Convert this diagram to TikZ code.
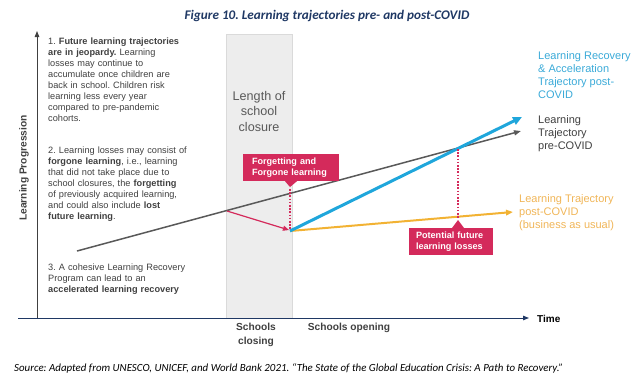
\documentclass[tikz,border=0pt]{standalone}
\usepackage{fontspec}
\setmainfont{Liberation Sans}
\newfontfamily\carlito{Carlito}
\usetikzlibrary{arrows.meta}
\definecolor{navy}{HTML}{1F3864}
\definecolor{dgray}{HTML}{595959}
\definecolor{tgray}{HTML}{404040}
\definecolor{lblue}{HTML}{1FA6DB}
\definecolor{lbluet}{HTML}{3AAAD8}
\definecolor{gold}{HTML}{F2B233}
\definecolor{goldt}{HTML}{F0B557}
\definecolor{crim}{HTML}{D42A5B}
\definecolor{band}{HTML}{EDEDED}
\definecolor{bandb}{HTML}{DADADA}
\frenchspacing
\tikzset{
  itemtxt/.style={anchor=north west, inner sep=0pt, text width=175pt, align=left,
    font=\fontsize{9.2}{11}\selectfont, text=tgray},
  lbl/.style={anchor=west, inner sep=0pt, align=left, font=\fontsize{11}{13}\selectfont},
  callbox/.style={fill=crim, text=white, inner xsep=0pt, inner ysep=0pt, align=left,
    font=\bfseries\fontsize{9.1}{11}\selectfont},
  axislbl/.style={inner sep=0pt, font=\bfseries\fontsize{10.2}{13}\selectfont, text=tgray},
  dotline/.style={crim, line width=1.6pt, dash pattern=on 1.6pt off 1.6pt},
}
\begin{document}
\begin{tikzpicture}[x=1pt,y=-1pt]
\useasboundingbox (0,0) rectangle (644,389);
% title
\node[inner sep=0pt, text=navy, font=\carlito\bfseries\itshape\fontsize{13.2}{15}\selectfont] (title) at (327,16) {Figure 10. Learning trajectories pre- and post-COVID};
% school closure band
\node[fill=band, draw=bandb, line width=0.5pt, minimum width=66pt, minimum height=284pt, inner sep=0pt] (band) at (259,176) {};
\node[inner sep=0pt, align=center, text=dgray, font=\fontsize{12.6}{15.5}\selectfont] (bandtxt) at (259,111) {Length of\\school\\closure};
% axes
\coordinate (yb) at (37,318);
\coordinate (yt) at (37,31);
\coordinate (xl) at (18,318);
\coordinate (xr) at (529,318);
\draw[tgray, line width=1pt, -{Triangle[length=6pt,width=4.5pt]}] (yb) -- (yt);
\draw[navy, line width=1pt, -{Triangle[length=6pt,width=4.5pt]}] (xl) -- (xr);
\node[axislbl, text=black, anchor=west, font=\bfseries\fontsize{10}{12}\selectfont] (time) at (537,319) {Time};
\node[axislbl, rotate=90] (ylab) at (24,168) {Learning Progression};
\node[axislbl, align=center, font=\bfseries\fontsize{10.2}{13.5}\selectfont] (close) at (256,335) {Schools\\closing};
\node[axislbl] (open) at (349,328) {Schools opening};
% left texts
\node[itemtxt] (it1) at (48,37.5) {\hangindent=12.5pt\hangafter=1 1. \textbf{Future learning trajectories}\\\textbf{are in jeopardy.} Learning\\losses may continue to\\accumulate once children are\\back in school. Children risk\\learning less every year\\compared to pre-pandemic\\cohorts.};
\node[itemtxt] (it2) at (48,147) {\hangindent=12.5pt\hangafter=1 2. Learning losses may consist of\\\textbf{forgone learning}, i.e., learning\\that did not take place due to\\school closures, the \textbf{forgetting}\\of previously acquired learning,\\and could also include \textbf{lost}\\\textbf{future learning}.};
\node[itemtxt] (it3) at (48,264) {\hangindent=12.5pt\hangafter=1 3. A cohesive Learning Recovery\\Program can lead to an\\\textbf{accelerated learning recovery}};
% trajectories
\coordinate (pre0) at (77,251);
\coordinate (pre1) at (521,131);
\coordinate (drop) at (290,231);
\coordinate (rec1) at (522,117);
\coordinate (bau1) at (513,212);
\coordinate (fstart) at (227,211);
\coordinate (fend) at (289,230);
\draw[dgray, line width=1.5pt, -{Triangle[length=7pt,width=5pt]}] (pre0) -- (pre1);
\draw[gold, line width=2pt, -{Triangle[length=7pt,width=5.5pt]}] (drop) -- (bau1);
\draw[lblue, line width=3pt, -{Triangle[length=9pt,width=8pt]}] (drop) -- (rec1);
\draw[crim, line width=1.2pt, -{Triangle[length=6pt,width=5pt]}] (fstart) -- (fend);
% callouts
\coordinate (d1a) at (290,189);
\coordinate (d1b) at (290,229);
\coordinate (d2a) at (458,149);
\coordinate (d2b) at (458,219);
\draw[dotline] (d1a) -- (d1b);
\draw[dotline] (d2a) -- (d2b);
\node[callbox, minimum width=96pt, minimum height=27pt, text width=78pt] (c1) at (291,167.5) {Forgetting and\\Forgone learning};
\fill[crim] (c1.south) ++(-6,0) coordinate (t1a) -- ++(12,0) -- (290,187) -- cycle;
\node[callbox, minimum width=84pt, minimum height=27pt, text width=70pt] (c2) at (451,241.5) {Potential future\\learning losses};
\fill[crim] (452,228) -- (464,228) -- (458,220) -- cycle;
% right labels
\node[lbl, text=lbluet] (lrec) at (538,75.5) {Learning Recovery\\\& Acceleration\\Trajectory post-\\COVID};
\node[lbl, text=tgray] (lpre) at (538,134) {Learning\\Trajectory\\pre-COVID};
\node[lbl, text=goldt] (lbau) at (519,212.5) {Learning Trajectory\\post-COVID\\(business as usual)};
% source
\node[anchor=west, inner sep=0pt, font=\carlito\itshape\fontsize{10.9}{13}\selectfont] (src) at (14,368) {Source: Adapted from UNESCO, UNICEF, and World Bank 2021. “The State of the Global Education Crisis: A Path to Recovery.”};
\end{tikzpicture}
\end{document}
